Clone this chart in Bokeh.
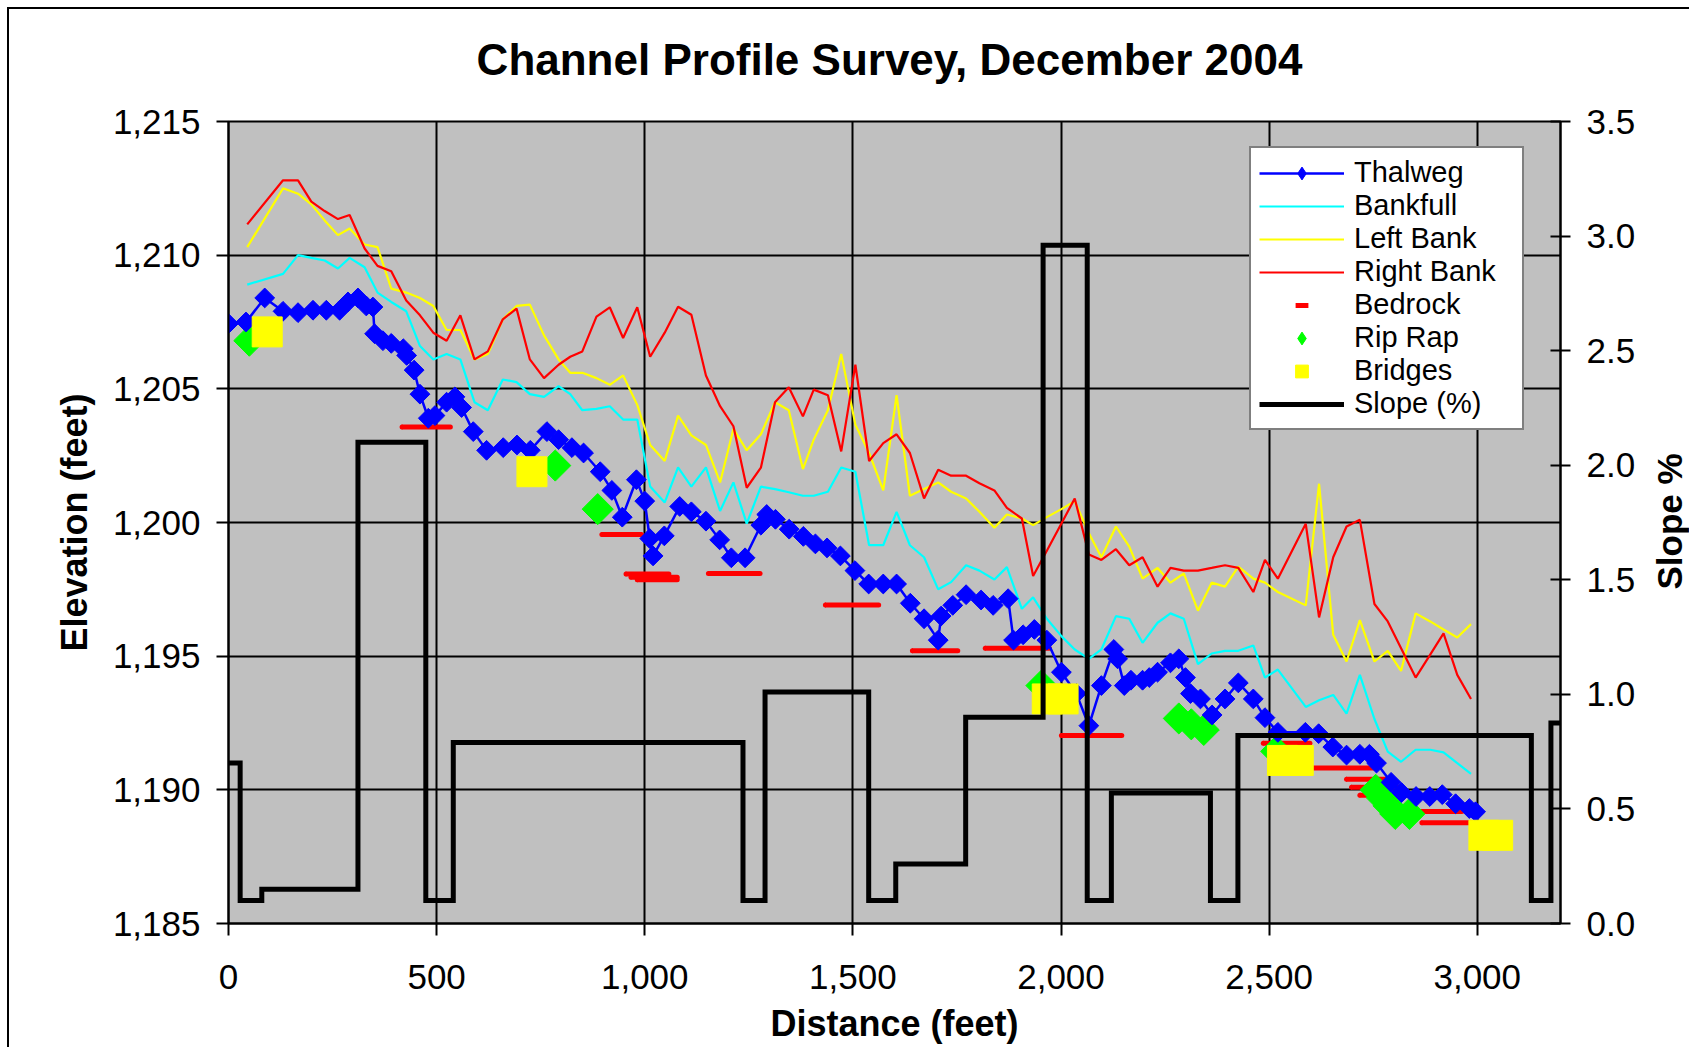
import math
from bokeh.plotting import figure
from bokeh.models import (Range1d, LinearAxis, FixedTicker, NumeralTickFormatter,
                          ColumnDataSource, Legend, LegendItem, Label)
from bokeh.embed import file_html
from bokeh.resources import INLINE

FONT = "Liberation Sans"

# ---------------- data ----------------
thalweg_x = [0, 42, 87, 131, 167, 203, 235, 267, 287, 311, 331, 347, 351, 371, 391, 420, 428, 446, 460,
             480, 496, 524, 544, 560, 588, 620, 660, 693, 725, 765, 793, 825, 853, 893, 921, 946, 980,
             1000, 1012, 1020, 1047, 1084, 1112, 1147, 1180, 1208, 1241, 1279, 1293, 1314, 1347, 1381,
             1410, 1438, 1470, 1505, 1538, 1573, 1605, 1638, 1671, 1705, 1712, 1740, 1772, 1808, 1837,
             1873, 1886, 1909, 1936, 1966, 2001, 2037, 2067, 2097, 2127, 2136, 2152, 2168, 2196, 2212,
             2232, 2263, 2283, 2299, 2311, 2335, 2363, 2394, 2426, 2462, 2490, 2521, 2587, 2619, 2653,
             2686, 2718, 2741, 2758, 2793, 2818, 2853, 2886, 2916, 2948, 2981, 2996]
thalweg_elev = [1207.44, 1207.5, 1208.4, 1207.9, 1207.85, 1207.94, 1207.94, 1207.94, 1208.25, 1208.4,
                1208.1, 1208.06, 1207.06, 1206.8, 1206.7, 1206.5, 1206.25, 1205.7, 1204.8, 1203.9,
                1204.0, 1204.5, 1204.7, 1204.3, 1203.4, 1202.7, 1202.8, 1202.9, 1202.7, 1203.4,
                1203.1, 1202.8, 1202.6, 1201.9, 1201.2, 1200.2, 1201.6, 1200.8, 1199.4, 1198.75,
                1199.5, 1200.6, 1200.4, 1200.05, 1199.35, 1198.68, 1198.68, 1199.9, 1200.3, 1200.12,
                1199.75, 1199.48, 1199.2, 1199.05, 1198.75, 1198.2, 1197.7, 1197.7, 1197.7, 1196.98,
                1196.4, 1195.6, 1196.5, 1196.9, 1197.3, 1197.1, 1196.9, 1197.15, 1195.6, 1195.8,
                1196.0, 1195.6, 1194.4, 1193.6, 1192.4, 1193.9, 1195.25, 1194.9, 1193.9, 1194.1,
                1194.1, 1194.2, 1194.4, 1194.75, 1194.9, 1194.2, 1193.6, 1193.4, 1192.8, 1193.4,
                1194.0, 1193.4, 1192.7, 1192.15, 1192.15, 1192.1, 1191.6, 1191.3, 1191.33, 1191.33,
                1191.0, 1190.28, 1189.9, 1189.75, 1189.75, 1189.82, 1189.48, 1189.3, 1189.18]

bank_x = [45, 131, 167, 199, 231, 263, 291, 327, 358, 391, 427, 460, 492, 524, 557, 591, 623, 659, 692,
          724, 758, 793, 821, 850, 884, 916, 948, 982, 1013, 1048, 1080, 1112, 1147, 1181, 1213, 1245,
          1279, 1313, 1346, 1380, 1406, 1440, 1472, 1506, 1539, 1573, 1605, 1637, 1671, 1705, 1736,
          1772, 1804, 1840, 1870, 1906, 1933, 1966, 2001, 2033, 2067, 2097, 2132, 2164, 2196, 2232,
          2263, 2295, 2329, 2362, 2394, 2426, 2462, 2490, 2521, 2588, 2620, 2654, 2686, 2718, 2753,
          2785, 2817, 2852, 2887, 2919, 2952, 2985]
bankfull_elev = [1208.9, 1209.3, 1210.0, 1209.9, 1209.8, 1209.5, 1209.9, 1209.55, 1208.6, 1208.25,
                 1207.9, 1206.6, 1206.1, 1206.3, 1206.1, 1204.5, 1204.2, 1205.35, 1205.25, 1204.8,
                 1204.7, 1205.1, 1204.8, 1204.2, 1204.25, 1204.35, 1203.85, 1203.85, 1201.35, 1200.75,
                 1202.06, 1201.34, 1202.06, 1200.43, 1201.5, 1199.96, 1201.34, 1201.25, 1201.13, 1201.0,
                 1201.0, 1201.15, 1202.06, 1201.9, 1199.15, 1199.15, 1200.4, 1199.15, 1198.7, 1197.5,
                 1197.77, 1198.4, 1198.2, 1197.87, 1198.33, 1196.77, 1197.2, 1196.4, 1195.75, 1195.25,
                 1194.9, 1195.25, 1196.5, 1196.4, 1195.5, 1196.25, 1196.6, 1196.4, 1194.7, 1195.1,
                 1195.2, 1195.2, 1195.4, 1194.2, 1194.5, 1193.1, 1193.35, 1193.55, 1192.85, 1194.3,
                 1192.65, 1191.43, 1191.05, 1191.5, 1191.5, 1191.4, 1191.0, 1190.6]
left_bank_elev = [1210.3, 1212.5, 1212.3, 1211.9, 1211.3, 1210.75, 1211.0, 1210.4, 1210.3, 1208.75,
                  1208.6, 1208.4, 1208.1, 1207.2, 1207.2, 1206.1, 1206.3, 1207.6, 1208.1, 1208.15,
                  1207.0, 1206.1, 1205.6, 1205.6, 1205.4, 1205.15, 1205.5, 1204.4, 1202.9, 1202.3,
                  1204.0, 1203.26, 1202.9, 1201.5, 1203.5, 1202.7, 1203.3, 1204.5, 1204.2, 1202.0,
                  1203.1, 1204.2, 1206.3, 1203.66, 1202.6, 1201.2, 1204.76, 1201.0, 1201.25, 1201.5,
                  1201.15, 1200.9, 1200.4, 1199.8, 1200.3, 1200.15, 1199.9, 1200.2, 1200.5, 1200.8,
                  1199.6, 1198.7, 1199.85, 1199.1, 1197.9, 1198.3, 1197.75, 1198.1, 1196.7, 1197.75,
                  1197.6, 1198.35, 1197.9, 1197.75, 1197.4, 1196.9, 1201.45, 1195.8, 1194.8, 1196.35,
                  1194.8, 1195.2, 1194.45, 1196.6, 1196.3, 1196.0, 1195.7, 1196.2]
right_bank_elev = [1211.15, 1212.8, 1212.8, 1212.0, 1211.65, 1211.35, 1211.5, 1210.25, 1209.6, 1209.4,
                   1208.3, 1207.75, 1207.1, 1206.8, 1207.75, 1206.1, 1206.4, 1207.6, 1208.0, 1206.1,
                   1205.4, 1205.9, 1206.2, 1206.4, 1207.7, 1208.05, 1206.9, 1208.05, 1206.2, 1207.1,
                   1208.07, 1207.77, 1205.5, 1204.35, 1203.6, 1201.3, 1202.05, 1204.5, 1205.06, 1203.97,
                   1204.97, 1204.76, 1202.66, 1205.9, 1202.3, 1202.97, 1203.3, 1202.6, 1200.9, 1201.97,
                   1201.75, 1201.75, 1201.47, 1201.2, 1200.55, 1200.15, 1198.0, 1198.94, 1199.96, 1200.9,
                   1198.8, 1198.6, 1199.0, 1198.4, 1198.7, 1197.6, 1198.3, 1198.2, 1198.2, 1198.3,
                   1198.4, 1198.3, 1197.4, 1198.6, 1197.9, 1199.95, 1196.45, 1198.7, 1199.85, 1200.1,
                   1196.95, 1196.3, 1195.3, 1194.2, 1195.06, 1195.85, 1194.3, 1193.4]

bedrock_start = [417, 897, 955, 967, 982, 1153, 1434, 1643, 1818, 2001, 2486, 2602, 2686, 2698, 2718, 2867, 2867]
bedrock_end = [533, 992, 1058, 1078, 1078, 1277, 1562, 1752, 1972, 2146, 2598, 2758, 2795, 2810, 2843, 2963, 2987]
bedrock_elev = [1203.57, 1199.55, 1198.07, 1197.95, 1197.86, 1198.09, 1196.91, 1195.2, 1195.3, 1192.03,
                1191.74, 1190.82, 1190.4, 1190.1, 1189.8, 1189.19, 1188.77]

riprap_x = [50, 785, 887, 1953, 2283, 2313, 2343, 2517, 2756, 2771, 2787, 2803, 2837]
riprap_elev = [1206.8, 1202.13, 1200.5, 1193.9, 1192.67, 1192.45, 1192.24, 1191.44, 1190.0, 1189.7,
               1189.4, 1189.1, 1189.1]

bridge_x = [93, 729, 1967, 2005, 2532, 2570, 3016, 3049]
bridge_elev = [1207.13, 1201.9, 1193.4, 1193.4, 1191.1, 1191.1, 1188.3, 1188.3]

slope_x = [0, 28, 80, 311, 474, 540, 1236, 1289, 1538, 1603, 1771, 1957, 2063, 2121, 2359, 2425, 3130, 3177, 3200]
slope_pct = [0.70, 0.10, 0.15, 2.10, 0.10, 0.79, 0.10, 1.01, 0.10, 0.26, 0.90, 2.96, 0.10, 0.57, 0.10,
             0.82, 0.10, 0.875, 0.875]

distance_ticks = [0, 500, 1000, 1500, 2000, 2500, 3000]
elevation_ticks = [1185, 1190, 1195, 1200, 1205, 1210, 1215]
slope_ticks = [0.0, 0.5, 1.0, 1.5, 2.0, 2.5, 3.0, 3.5]

title_text = "Channel Profile Survey, December 2004"

# ---------------- figure ----------------
p = figure(width=1682, height=1040, output_backend="svg", toolbar_location=None,
           x_range=Range1d(0, 3200), y_range=Range1d(1185, 1215),
           min_border_left=219, min_border_right=131, min_border_top=112, min_border_bottom=126,
           background_fill_color="#C0C0C0", border_fill_color="white")
p.styles = {"margin-left": "7px", "margin-top": "7px",
            "border-left": "2px solid black", "border-top": "2px solid black"}
p.extra_y_ranges = {"slope": Range1d(0, 3.5)}
p.outline_line_color = "black"
p.outline_line_width = 2
p.title.visible = False

# chart title, placed in the panel above the plot frame
p.add_layout(Label(x=661, y=62, x_units="screen", y_units="screen", text=title_text,
                   text_align="center", text_baseline="alphabetic",
                   text_font=FONT, text_font_size="44px", text_font_style="bold",
                   text_color="black"), "above")


def style_axis(ax, tick_in=0, tick_out=12):
    ax.major_label_text_font = FONT
    ax.major_label_text_font_size = "35px"
    ax.major_label_text_color = "black"
    ax.axis_label_text_font = FONT
    ax.axis_label_text_font_size = "36px"
    ax.axis_label_text_font_style = "bold"
    ax.axis_label_text_color = "black"
    ax.axis_line_color = "black"
    ax.axis_line_width = 2
    ax.major_tick_line_color = "black"
    ax.major_tick_line_width = 2
    ax.major_tick_in = tick_in
    ax.major_tick_out = tick_out
    ax.minor_tick_in = 0
    ax.minor_tick_out = 0


xax = p.xaxis[0]
xax.ticker = FixedTicker(ticks=distance_ticks)
xax.formatter = NumeralTickFormatter(format="0,0")
xax.axis_label = "Distance (feet)"
style_axis(xax)
xax.major_label_standoff = 29
xax.axis_label_standoff = 11

yax = p.yaxis[0]
yax.ticker = FixedTicker(ticks=elevation_ticks)
yax.formatter = NumeralTickFormatter(format="0,0")
yax.axis_label = "Elevation (feet)"
style_axis(yax)
yax.major_label_standoff = 16
yax.axis_label_standoff = 15

rax = LinearAxis(y_range_name="slope", ticker=FixedTicker(ticks=slope_ticks),
                 formatter=NumeralTickFormatter(format="0.0"))
style_axis(rax, tick_in=10, tick_out=10)
rax.major_label_standoff = 16
p.add_layout(rax, "right")

# right-hand axis title, reading bottom-to-top as in the source chart
p.add_layout(Label(x=31, y=402, x_units="screen", y_units="screen", text="Slope %",
                   angle=math.pi / 2, text_align="center", text_baseline="middle",
                   text_font=FONT, text_font_size="35px", text_font_style="bold",
                   text_color="black"), "right")

p.xgrid.ticker = FixedTicker(ticks=distance_ticks)
p.ygrid.ticker = FixedTicker(ticks=elevation_ticks)
for g in (p.xgrid[0], p.ygrid[0]):
    g.grid_line_color = "black"
    g.grid_line_width = 2

# ---------------- glyphs ----------------
r_bankfull = p.line(bank_x, bankfull_elev, line_color="#00FFFF", line_width=2.2)
r_left = p.line(bank_x, left_bank_elev, line_color="#FFFF00", line_width=2.2)
r_right = p.line(bank_x, right_bank_elev, line_color="#FF0000", line_width=2.2)

bed_src = ColumnDataSource(data=dict(x=bedrock_start, y=bedrock_elev))
# tiny legend-sample glyph, hidden under the bedrock bars
lg_bed = p.scatter("x", "y", source=bed_src, marker="dash", size=1, line_color="#FF0000", line_width=5)
r_bed = p.segment(x0=bedrock_start, y0=bedrock_elev, x1=bedrock_end, y1=bedrock_elev,
                  line_color="#FF0000", line_width=5, line_cap="round")

rip_src = ColumnDataSource(data=dict(x=riprap_x, y=riprap_elev))
lg_rip = p.scatter("x", "y", source=rip_src, marker="diamond", size=1,
                   fill_color="#00FF00", line_color="#00FF00")
r_rip = p.scatter("x", "y", source=rip_src, marker="square", angle=math.pi / 4, size=22,
                  fill_color="#00FF00", line_color="#00FF00")

thal_src = ColumnDataSource(data=dict(x=thalweg_x, y=thalweg_elev))
r_thal_line = p.line("x", "y", source=thal_src, line_color="#0000FF", line_width=2.5)
lg_thal = p.scatter("x", "y", source=thal_src, marker="diamond", size=1,
                    fill_color="#0000FF", line_color="#0000FF")
r_thal_pts = p.scatter("x", "y", source=thal_src, marker="square", angle=math.pi / 4, size=14,
                       fill_color="#0000FF", line_color="#0000FF")

r_bridge = p.scatter(bridge_x, bridge_elev, marker="square", size=30,
                     fill_color="#FFFF00", line_color="#FFFF00")

r_slope = p.step(slope_x, slope_pct, mode="after", y_range_name="slope",
                 line_color="black", line_width=5, line_join="miter")

legend = Legend(items=[
    LegendItem(label="Thalweg", renderers=[r_thal_line, lg_thal]),
    LegendItem(label="Bankfull", renderers=[r_bankfull]),
    LegendItem(label="Left Bank", renderers=[r_left]),
    LegendItem(label="Right Bank", renderers=[r_right]),
    LegendItem(label="Bedrock", renderers=[lg_bed]),
    LegendItem(label="Rip Rap", renderers=[lg_rip]),
    LegendItem(label="Bridges", renderers=[r_bridge]),
    LegendItem(label="Slope (%)", renderers=[r_slope]),
], location=(1021, 493))
legend.label_text_font = FONT
legend.label_text_font_size = "29px"
legend.label_text_color = "black"
legend.glyph_width = 85
legend.glyph_height = 32
legend.label_standoff = 10
legend.label_width = 160
legend.spacing = 0
legend.padding = 8
legend.margin = 0
legend.border_line_color = "black"
legend.border_line_width = 2
legend.background_fill_color = "white"
legend.background_fill_alpha = 1.0
p.add_layout(legend, "center")

open("out.html", "w").write(file_html(p, INLINE, title="Channel Profile Survey"))
